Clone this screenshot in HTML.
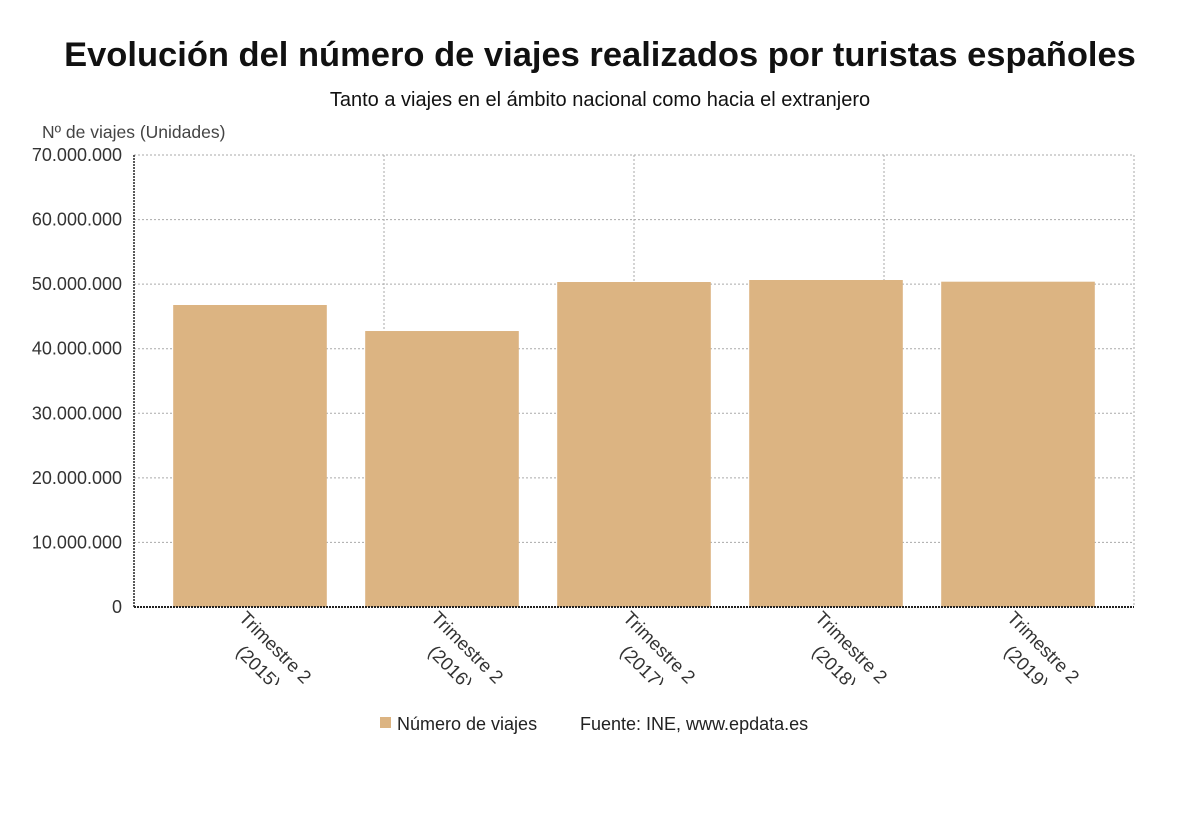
<!DOCTYPE html>
<html><head><meta charset="utf-8"><style>
body{margin:0;background:#fff;font-family:"Liberation Sans",sans-serif}
</style></head><body>
<svg width="1200" height="809" xmlns="http://www.w3.org/2000/svg" id="chart" font-family="Liberation Sans, sans-serif">
<text x="600" y="66" text-anchor="middle" font-size="34.5" font-weight="bold" fill="#111">Evolución del número de viajes realizados por turistas españoles</text>
<text x="600" y="106" text-anchor="middle" font-size="20" fill="#111">Tanto a viajes en el ámbito nacional como hacia el extranjero</text>
<text x="42" y="138" font-size="17.5" fill="#444">Nº de viajes (Unidades)</text>
<defs><clipPath id="lc"><rect x="130" y="608" width="1000" height="77"/></clipPath></defs>
<g id="grid"></g><g id="bars"></g><g id="yt"></g><g id="xt" clip-path="url(#lc)"></g>
<line x1="134" y1="155" x2="134" y2="607" stroke="#222" stroke-width="1.5" stroke-dasharray="2,1"/>
<line x1="134" y1="607" x2="1134" y2="607" stroke="#222" stroke-width="2" stroke-dasharray="2,1"/>
<rect x="380" y="717" width="11" height="11" fill="#dcb482"/>
<text x="397" y="730" font-size="18" fill="#222">Número de viajes</text>
<text x="580" y="730" font-size="18" fill="#222">Fuente: INE, www.epdata.es</text>
</svg>
<script>
const categories=["Trimestre 2 (2015)","Trimestre 2 (2016)","Trimestre 2 (2017)","Trimestre 2 (2018)","Trimestre 2 (2019)"];
const values=[46770000,42740000,50330000,50640000,50380000];
const yTicks=[0,10000000,20000000,30000000,40000000,50000000,60000000,70000000];
const yTickLabels=["0","10.000.000","20.000.000","30.000.000","40.000.000","50.000.000","60.000.000","70.000.000"];
const NS="http://www.w3.org/2000/svg";
const X0=134,X1=1134,Y0=607,Y1=155,YMAX=70000000;
const y=v=>Y0-(v/YMAX)*(Y0-Y1);
const band=(X1-X0-40)/categories.length;
const xc=i=>X0+20+band*(i+0.5);
function mk(t,a,p){const e=document.createElementNS(NS,t);for(const k in a)e.setAttribute(k,a[k]);p.appendChild(e);return e;}
const g=document.getElementById('grid');
yTicks.forEach((v,i)=>{if(v===0)return;
const l=mk('line',{x1:X0,x2:X1,y1:y(v),y2:y(v),stroke:'#aaa','stroke-dasharray':'2,2'},g);

});
[1,2,3,4].forEach(k=>{const x=X0+k*250;
const l=mk('line',{x1:x,x2:x,y1:Y1,y2:Y0,stroke:'#aaa','stroke-dasharray':'2,2'},g);

});
const yt=document.getElementById('yt');
yTicks.forEach((v,i)=>{const t=mk('text',{x:122,y:y(v)+6,'text-anchor':'end','font-size':18,fill:'#333'},yt);t.textContent=yTickLabels[i];

});
const b=document.getElementById('bars'),xt=document.getElementById('xt');
values.forEach((v,i)=>{const w=band*0.8;
const r=mk('rect',{x:xc(i)-w/2,y:y(v),width:w,height:Y0-y(v),fill:'#dcb482'},b);


const parts=categories[i].split(' (');
const t=mk('text',{transform:`translate(${xc(i)-12},619) rotate(45)`,'font-size':18.5,fill:'#333'},xt);


mk('tspan',{x:0,y:0},t).textContent=parts[0];
mk('tspan',{x:22,y:26},t).textContent='('+parts[1];
});
</script>
</body></html>
